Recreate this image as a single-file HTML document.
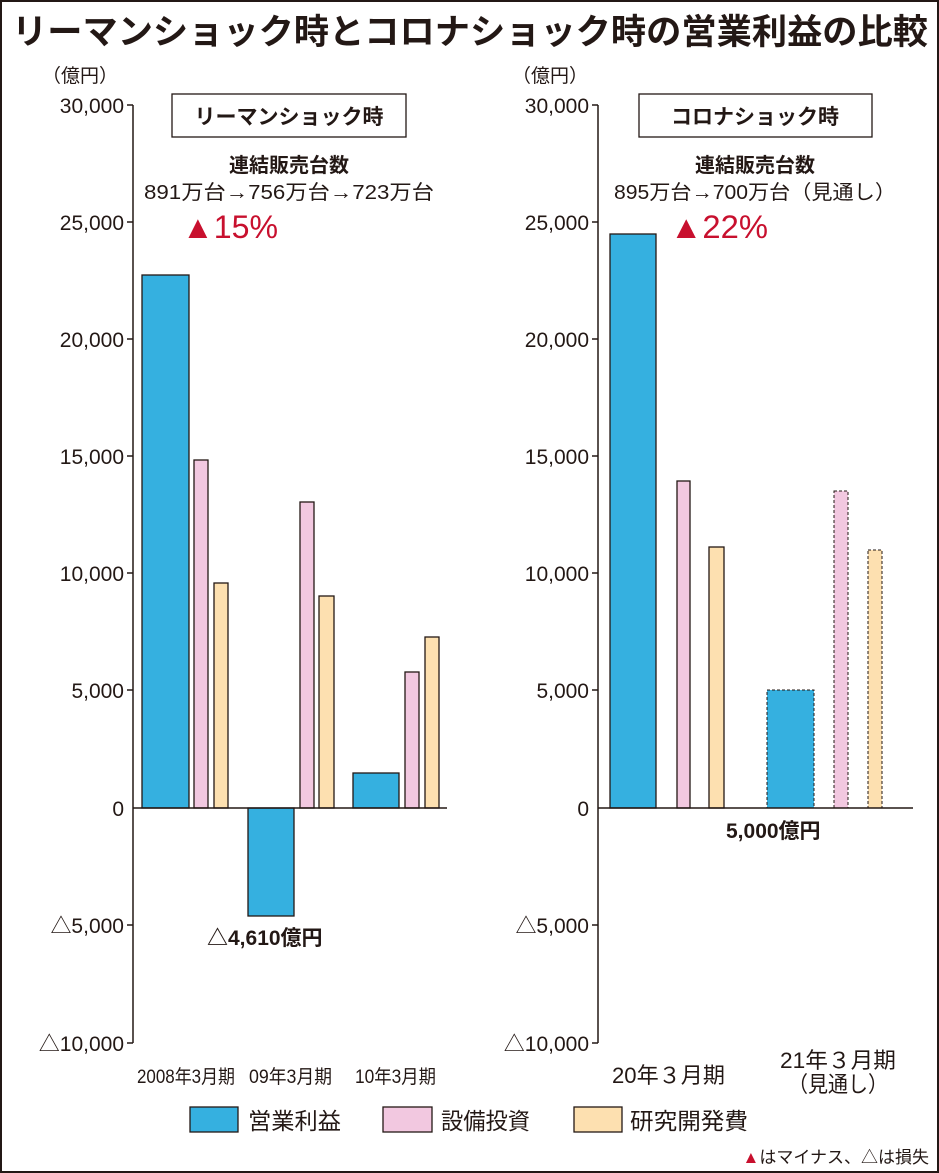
<!DOCTYPE html>
<html><head><meta charset="utf-8"><style>
body{margin:0;background:#fff}
svg{display:block}
text{font-family:"Liberation Sans Narrow","Liberation Sans","Noto Sans CJK JP",sans-serif;fill:#231815}
.j{font-family:"Liberation Sans","Noto Sans CJK JP",sans-serif}
</style></head><body>
<svg width="939" height="1173" viewBox="0 0 939 1173" xmlns="http://www.w3.org/2000/svg">
<rect x="1" y="1" width="937" height="1171" fill="#fff" stroke="#231815" stroke-width="2"/>
<text class="j" x="12" y="44" font-size="35" font-weight="bold" textLength="916" lengthAdjust="spacingAndGlyphs">リーマンショック時とコロナショック時の営業利益の比較</text>
<g font-size="20">
<text class="j" x="42" y="82" font-size="19">（億円）</text>
<text class="j" x="512" y="82" font-size="19">（億円）</text>
</g>
<g stroke="#231815" stroke-width="1.5" fill="none">
<line x1="133" y1="105" x2="133" y2="1043"/>
<line x1="598" y1="105" x2="598" y2="1043"/>
<line x1="127" y1="105" x2="133" y2="105"/><line x1="127" y1="222" x2="133" y2="222"/><line x1="127" y1="339" x2="133" y2="339"/><line x1="127" y1="456" x2="133" y2="456"/><line x1="127" y1="573" x2="133" y2="573"/><line x1="127" y1="690" x2="133" y2="690"/><line x1="127" y1="925" x2="133" y2="925"/><line x1="127" y1="1043" x2="133" y2="1043"/>
<line x1="592" y1="105" x2="598" y2="105"/><line x1="592" y1="222" x2="598" y2="222"/><line x1="592" y1="339" x2="598" y2="339"/><line x1="592" y1="456" x2="598" y2="456"/><line x1="592" y1="573" x2="598" y2="573"/><line x1="592" y1="690" x2="598" y2="690"/><line x1="592" y1="925" x2="598" y2="925"/><line x1="592" y1="1043" x2="598" y2="1043"/>
</g>
<g font-size="21" text-anchor="end">
<text x="124" y="113">30,000</text><text x="124" y="230">25,000</text><text x="124" y="347">20,000</text><text x="124" y="464">15,000</text><text x="124" y="581">10,000</text><text x="124" y="698">5,000</text><text x="124" y="816">0</text><text x="124" y="933">△5,000</text><text x="124" y="1051">△10,000</text>
<text x="589" y="113">30,000</text><text x="589" y="230">25,000</text><text x="589" y="347">20,000</text><text x="589" y="464">15,000</text><text x="589" y="581">10,000</text><text x="589" y="698">5,000</text><text x="589" y="816">0</text><text x="589" y="933">△5,000</text><text x="589" y="1051">△10,000</text>
</g>
<g stroke="#231815" stroke-width="1.3">
<rect x="142" y="275" width="47" height="533" fill="#35b0e0"/>
<rect x="194" y="460" width="14" height="348" fill="#f2c8e0"/>
<rect x="214" y="583" width="14" height="225" fill="#fde0b0"/>
<rect x="248" y="808" width="46" height="108" fill="#35b0e0"/>
<rect x="300" y="502" width="14" height="306" fill="#f2c8e0"/>
<rect x="319" y="596" width="15" height="212" fill="#fde0b0"/>
<rect x="353" y="773" width="46" height="35" fill="#35b0e0"/>
<rect x="405" y="672" width="14" height="136" fill="#f2c8e0"/>
<rect x="425" y="637" width="14" height="171" fill="#fde0b0"/>
<rect x="610" y="234" width="46" height="574" fill="#35b0e0"/>
<rect x="677" y="481" width="13" height="327" fill="#f2c8e0"/>
<rect x="709" y="547" width="15" height="261" fill="#fde0b0"/>
</g>
<g stroke="#231815" stroke-width="1" stroke-dasharray="3,2">
<rect x="767" y="690" width="47" height="118" fill="#35b0e0"/>
<rect x="834" y="491" width="14" height="317" fill="#f2c8e0"/>
<rect x="868" y="550" width="14" height="258" fill="#fde0b0"/>
</g>
<g stroke="#231815" stroke-width="1.5">
<line x1="133" y1="808" x2="447" y2="808"/>
<line x1="598" y1="808" x2="913" y2="808"/>
</g>
<rect x="172" y="94" width="234" height="43" fill="#fff" stroke="#231815" stroke-width="1.3"/>
<text class="j" x="289" y="124" font-size="21" font-weight="bold" text-anchor="middle">リーマンショック時</text>
<rect x="639" y="94" width="233" height="43" fill="#fff" stroke="#231815" stroke-width="1.3"/>
<text class="j" x="755" y="124" font-size="21" font-weight="bold" text-anchor="middle">コロナショック時</text>
<text class="j" x="289" y="172" font-size="20" font-weight="bold" text-anchor="middle">連結販売台数</text>
<text class="j" x="289" y="199" font-size="20" text-anchor="middle" textLength="290" lengthAdjust="spacingAndGlyphs">891万台→756万台→723万台</text>
<text class="j" x="755" y="172" font-size="20" font-weight="bold" text-anchor="middle">連結販売台数</text>
<text class="j" x="755" y="199" font-size="20" text-anchor="middle" textLength="282" lengthAdjust="spacingAndGlyphs">895万台→700万台（見通し）</text>
<text class="j" x="182" y="238" font-size="32" style="fill:#c8102e" textLength="96" lengthAdjust="spacingAndGlyphs">▲15%</text>
<text class="j" x="670" y="238" font-size="32" style="fill:#c8102e" textLength="98" lengthAdjust="spacingAndGlyphs">▲22%</text>
<text x="207" y="945" font-size="21" font-weight="bold">△4,610億円</text>
<text x="726" y="838" font-size="21" font-weight="bold">5,000億円</text>
<g font-size="19">
<text x="137" y="1083" textLength="98" lengthAdjust="spacingAndGlyphs">2008年3月期</text>
<text x="249" y="1083" textLength="83" lengthAdjust="spacingAndGlyphs">09年3月期</text>
<text x="355" y="1083" textLength="81" lengthAdjust="spacingAndGlyphs">10年3月期</text>
<text x="612" y="1083" font-size="22" textLength="113" lengthAdjust="spacingAndGlyphs">20年３月期</text>
<text x="780" y="1068" font-size="22" textLength="116" lengthAdjust="spacingAndGlyphs">21年３月期</text>
<text x="788" y="1092" font-size="22" textLength="100" lengthAdjust="spacingAndGlyphs">（見通し）</text>
</g>
<g stroke="#231815" stroke-width="1.3">
<rect x="190" y="1107" width="48" height="25" fill="#35b0e0"/>
<rect x="383" y="1107" width="49" height="25" fill="#f2c8e0"/>
<rect x="574" y="1107" width="48" height="25" fill="#fde0b0"/>
</g>
<text class="j" x="248" y="1129" font-size="23" textLength="93" lengthAdjust="spacingAndGlyphs">営業利益</text>
<text class="j" x="441" y="1129" font-size="23" textLength="89" lengthAdjust="spacingAndGlyphs">設備投資</text>
<text class="j" x="630" y="1129" font-size="23" textLength="118" lengthAdjust="spacingAndGlyphs">研究開発費</text>
<text class="j" x="929" y="1163" font-size="17" text-anchor="end"><tspan style="fill:#c8102e">▲</tspan>はマイナス、△は損失</text>
</svg>
</body></html>
